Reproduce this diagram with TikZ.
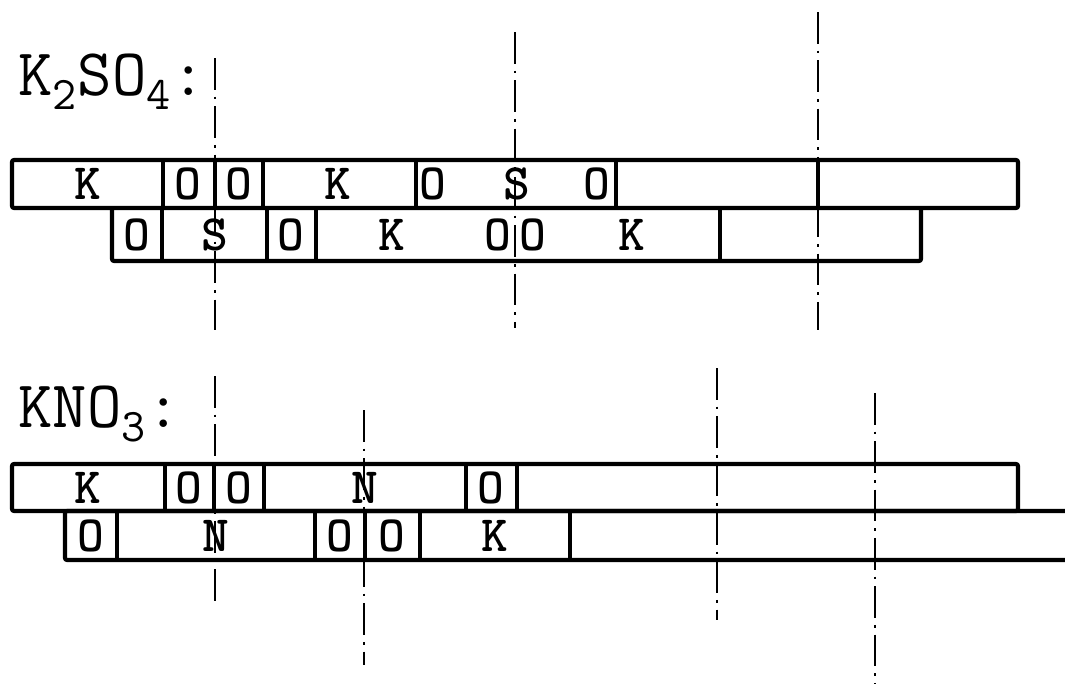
\documentclass[tikz,border=0pt]{standalone}
\usepackage{fontspec}
\begin{document}
\begin{tikzpicture}[x=0.02cm, y=-0.02cm,
  row/.style={line width=2.4pt, line join=round, rounded corners=1.2pt},
  wall/.style={line width=1.8pt},
  axis/.style={line width=1.4pt, dash pattern=on 18pt off 4pt on 1.5pt off 4pt},
  atom/.style={font=\ttfamily\bfseries\fontsize{29}{29}\selectfont, inner sep=0pt},
  formula/.style={font=\ttfamily\fontsize{38}{38}\selectfont, anchor=west, inner sep=0pt}]
  \useasboundingbox (0,0) rectangle (1065,684);

  % K2SO4
  \node[formula] (sulfate) at (18,82) {K\textsubscript{2}SO\textsubscript{4}:};
  \draw[row] (12,160) rectangle (1018,208);
  \draw[wall] (163,160) -- (163,208) (215,160) -- (215,208) (263,160) -- (263,208)
    (416,160) -- (416,208) (616,160) -- (616,208) (818,160) -- (818,208);
  \draw[row] (112,208) -- (112,261) -- (921,261) -- (921,208);
  \draw[wall] (162,208) -- (162,261) (267,208) -- (267,261) (316,208) -- (316,261)
    (720,208) -- (720,261);
  \node[atom] (sk1) at (88,184) {K};
  \node[atom] (so1) at (188,184) {O};
  \node[atom] (so2) at (239,184) {O};
  \node[atom] (sk2) at (338,184) {K};
  \node[atom] (so3) at (433,184) {O};
  \node[atom] (ss1) at (517,184) {S};
  \node[atom] (so4) at (597,184) {O};
  \node[atom] (so5) at (137,235) {O};
  \node[atom] (ss2) at (215,235) {S};
  \node[atom] (so6) at (291,235) {O};
  \node[atom] (sk3) at (392,235) {K};
  \node[atom] (so7) at (498,235) {O};
  \node[atom] (so8) at (533,235) {O};
  \node[atom] (sk4) at (632,235) {K};
  \draw[axis] (215,58) -- (215,330);
  \draw[axis] (515,32) -- (515,328);
  \draw[axis] (818,12) -- (818,330);

  % KNO3
  \node[formula] (nitrate) at (18,414) {KNO\textsubscript{3}:};
  \draw[row] (12,464) rectangle (1018,511);
  \draw[wall] (165,464) -- (165,511) (214,464) -- (214,511) (264,464) -- (264,511)
    (466,464) -- (466,511) (517,464) -- (517,511);
  \draw[row] (1070,511) -- (65,511) -- (65,560) -- (1070,560);
  \draw[wall] (117,511) -- (117,560) (315,511) -- (315,560) (365,511) -- (365,560)
    (420,511) -- (420,560) (570,511) -- (570,560);
  \node[atom] (nk1) at (88,488) {K};
  \node[atom] (no1) at (189,488) {O};
  \node[atom] (no2) at (239,488) {O};
  \node[atom] (nn1) at (365,488) {N};
  \node[atom] (no3) at (491,488) {O};
  \node[atom] (no4) at (91,536) {O};
  \node[atom] (nn2) at (216,536) {N};
  \node[atom] (no5) at (340,536) {O};
  \node[atom] (no6) at (392,536) {O};
  \node[atom] (nk2) at (495,536) {K};
  \draw[axis] (215,376) -- (215,605);
  \draw[axis] (364,410) -- (364,665);
  \draw[axis] (717,368) -- (717,620);
  \draw[axis] (875,393) -- (875,684);
\end{tikzpicture}
\end{document}
